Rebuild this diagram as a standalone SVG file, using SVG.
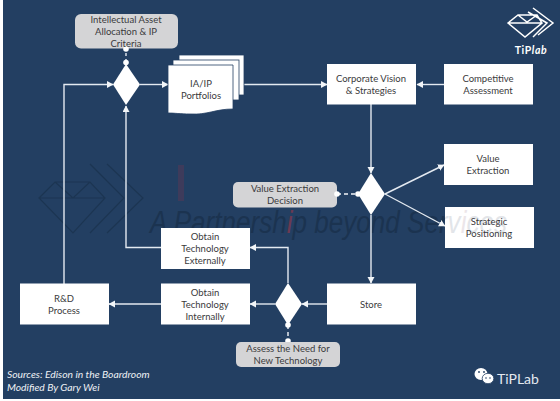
<svg xmlns="http://www.w3.org/2000/svg" width="560" height="401" viewBox="0 0 560 401">
<defs>
<marker id="arr" markerUnits="userSpaceOnUse" markerWidth="8" markerHeight="8" refX="6" refY="3.5" orient="auto"><path d="M0 0L6.500 3.500L0 7Z" fill="#f2f5f8"/></marker>
<clipPath id="boxclip"><rect x="445" y="207" width="89" height="41"/></clipPath>
<text id="wmtext" class="wm" x="150" y="232.500" textLength="357" lengthAdjust="spacingAndGlyphs">A Partnersh<tspan class="wr">i</tspan>p beyond Serv<tspan class="wr">i</tspan>ces</text>
</defs>
<style>
.n{fill:#fff}
.g{fill:#d4d4d6}
.l{fill:none;stroke:#e4eaf1;stroke-width:1.400}
.d{fill:none;stroke:#f2f5f8;stroke-width:1.400;stroke-dasharray:4 3}
.dot{fill:#fff}
.s{fill:#fff;stroke:#233f62;stroke-width:.8}
text{font-family:Lato,"Open Sans","Liberation Sans",sans-serif;font-size:9.500px;fill:#3a3a3c;text-anchor:middle}
.wm{font-family:"Liberation Sans",sans-serif;font-style:italic;font-size:31px;fill:#1b3350;text-anchor:start}
.wr{fill:#6b3a52}
.wh{fill:none;stroke:#1c3552;stroke-width:1.200}
.src{text-anchor:start;font-style:italic;fill:#eef1f5;font-size:10.300px}
</style>
<rect width="560" height="401" fill="#fff"/>
<rect x="3" y="0" width="557" height="399" fill="#233f62"/>
<g id="watermark">
<path class="wh" d="M39 198L55 182H90L105 198L73 233ZM39 198H105M55 182L73 198L90 182M90 164L124 198L90 233M107 164L143 198L107 233"/>
<rect x="178" y="165" width="6" height="36" fill="#4a3a58" opacity=".7"/>
<use href="#wmtext"/>
</g>
<g id="connectors">
<path class="l" d="M126 62V52" stroke-dasharray="3 3"/>
<path class="l" marker-end="url(#arr)" d="M64 284V84.500H113"/>
<path class="l" marker-end="url(#arr)" d="M161 247.500H126V106"/>
<path class="l" marker-end="url(#arr)" d="M140 84.500H168"/>
<path class="l" marker-end="url(#arr)" d="M244 84.500H327"/>
<path class="l" marker-end="url(#arr)" d="M444 84.500H417"/>
<path class="l" marker-end="url(#arr)" d="M371 104V173"/>
<path class="l" marker-end="url(#arr)" d="M385 194L444 165"/>
<path class="l" marker-end="url(#arr)" d="M385 194L445 226"/>
<path class="l" marker-end="url(#arr)" d="M371 215V283"/>
<path class="l" marker-end="url(#arr)" d="M327 304H302"/>
<path class="l" marker-end="url(#arr)" d="M288 283V247.500H250"/>
<path class="l" marker-end="url(#arr)" d="M275 304H250"/>
<path class="l" marker-end="url(#arr)" d="M161 304H109"/>
<path class="d" d="M337 194H358"/>
<path class="d" d="M288 325V341"/>
</g>
<g id="ip-criteria">
<rect class="g" x="75" y="14" width="103" height="34.500" rx="6"/>
<circle class="dot" cx="126" cy="49" r="2.800"/>
<circle class="dot" cx="126" cy="62.500" r="2.800"/>
<text x="126" y="23">Intellectual Asset</text>
<text x="126" y="35">Allocation &amp; IP</text>
<text x="126" y="47">Criteria</text>
</g>
<g id="decision-1"><path class="n" d="M126 64L140 84.500L126 105L113 84.500Z"/></g>
<g id="portfolios">
<rect class="s" x="179" y="55" width="65" height="40"/>
<rect class="s" x="173" y="60" width="66" height="40"/>
<path class="s" d="M168 65H233V109C215 109 208 115 190 114C180 114 175 113 168 113Z"/>
<text x="201" y="87">IA/IP</text>
<text x="201" y="99">Portfolios</text>
</g>
<g id="vision">
<rect class="n" x="327" y="64" width="89" height="40.500"/>
<text x="371" y="82">Corporate Vision</text>
<text x="371" y="94">&amp; Strategies</text>
</g>
<g id="competitive">
<rect class="n" x="444" y="64" width="89" height="40.500"/>
<text x="488" y="82">Competitive</text>
<text x="488" y="94">Assessment</text>
</g>
<g id="value-extraction">
<rect class="n" x="444" y="144" width="89" height="41"/>
<text x="488" y="162">Value</text>
<text x="488" y="174">Extraction</text>
</g>
<g id="strategic">
<rect class="n" x="445" y="207" width="89" height="41"/>
<use href="#wmtext" clip-path="url(#boxclip)" opacity=".12"/>
<text x="489" y="225">Strategic</text>
<text x="489" y="237">Positioning</text>
</g>
<g id="ve-decision">
<rect class="g" x="233" y="182" width="104" height="25.500" rx="5"/>
<circle class="dot" cx="337" cy="194" r="2.800"/>
<circle class="dot" cx="358" cy="194" r="2.800"/>
<text x="285" y="192">Value Extraction</text>
<text x="285" y="204">Decision</text>
</g>
<g id="decision-2"><path class="n" d="M371 173L385 194L371 215L358 194Z"/></g>
<g id="store">
<rect class="n" x="327" y="283.500" width="89" height="41"/>
<text x="371" y="307.500">Store</text>
</g>
<g id="decision-3"><path class="n" d="M288 283L302 304L288 325L275 304Z"/></g>
<g id="assess">
<circle class="dot" cx="288" cy="325" r="2.800"/>
<circle class="dot" cx="288" cy="341" r="2.800"/>
<rect class="g" x="236" y="342" width="104" height="25" rx="5"/>
<text x="288" y="352">Assess the Need for</text>
<text x="288" y="364">New Technology</text>
</g>
<g id="external">
<rect class="n" x="161" y="228" width="89" height="41"/>
<text x="205" y="240">Obtain</text>
<text x="205" y="252">Technology</text>
<text x="205" y="264">Externally</text>
</g>
<g id="internal">
<rect class="n" x="161" y="283.500" width="89" height="41"/>
<text x="205" y="295.500">Obtain</text>
<text x="205" y="307.500">Technology</text>
<text x="205" y="319.500">Internally</text>
</g>
<g id="rd">
<rect class="n" x="20" y="283.500" width="89" height="41"/>
<text x="64" y="301.500">R&amp;D</text>
<text x="64" y="313.500">Process</text>
</g>
<g id="sources">
<text class="src" x="7" y="378">Sources: Edison in the Boardroom</text>
<text class="src" x="7" y="391">Modified By Gary Wei</text>
</g>
<g id="logo">
<path d="M508 23L518 15H537L542 23L525 37ZM508 23H542M518 15L527 22L537 15M528 12L547 23L533 37M533 8L553 23L538 35" fill="none" stroke="#fff" stroke-width="1.500"/>
<text x="531" y="54" style="font-size:10.500px;font-weight:700;fill:#fff;letter-spacing:.6px">TiP<tspan font-style="italic">lab</tspan></text>
</g>
<g id="wechat">
<ellipse cx="481" cy="374" rx="6.500" ry="6" fill="#fff"/>
<ellipse cx="488" cy="378.500" rx="5.800" ry="5.200" fill="#fff" stroke="#233f62" stroke-width=".8"/>
<circle cx="479" cy="372" r=".9" fill="#233f62"/><circle cx="484" cy="372" r=".9" fill="#233f62"/>
<circle cx="486" cy="378" r=".8" fill="#233f62"/><circle cx="490" cy="378" r=".8" fill="#233f62"/>
<text x="497" y="383.500" style="text-anchor:start;font-size:14px;fill:#e4e9f0;font-family:Lato,sans-serif">TiPLab</text>
</g>
</svg>
